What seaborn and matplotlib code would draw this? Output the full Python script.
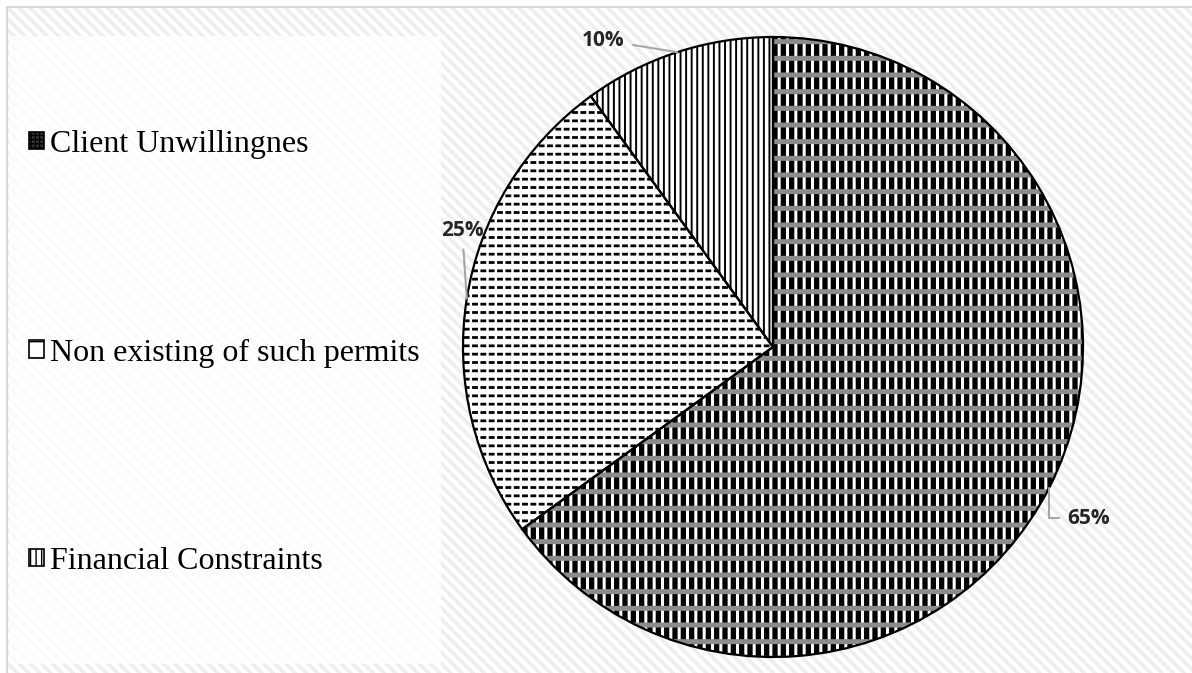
import numpy as np
import matplotlib
matplotlib.use('Agg')
import matplotlib.pyplot as plt
from matplotlib.patches import Rectangle, Patch
import seaborn as sns

# ---- data ----
categories = ['Client Unwillingnes', 'Non existing of such permits', 'Financial Constraints']
shares = [65, 25, 10]
pct_labels = ['65%', '25%', '10%']

sns.set_theme(style='white')
plt.rcParams['font.family'] = ['Liberation Serif', 'DejaVu Serif']

W, H = 1192, 673
fig = plt.figure(figsize=(W / 100, H / 100), dpi=100)
fig.patch.set_facecolor('white')


def hlw(artist, lw):
    try:
        artist.set_hatch_linewidth(lw)
    except AttributeError:
        pass


def px(x0, y0, x1, y1):
    return (x0 / W, 1 - y1 / H), (x1 - x0) / W, (y1 - y0) / H

# background hatched chart area
xy, w, h = px(7, 7, W + 5, H + 5)
bg = Rectangle(xy, w, h, transform=fig.transFigure, facecolor='white',
               edgecolor='#eeeeee', hatch='\\\\\\', lw=0, zorder=0)
hlw(bg, 2.5)
fig.add_artist(bg)
border = Rectangle(xy, w, h, transform=fig.transFigure, facecolor='none',
                   edgecolor='#d9d9d9', lw=1.5, zorder=0.5)
fig.add_artist(border)
# legend panel
xy, w, h = px(9, 36, 441, 664)
panel = Rectangle(xy, w, h, transform=fig.transFigure, facecolor='white',
                  edgecolor='none', alpha=0.8, zorder=0.6)
fig.add_artist(panel)

# ---- pie ----
cx, cy, r = 773, 347, 310
ax = fig.add_axes([(cx - r) / W, (H - cy - r) / H, 2 * r / W, 2 * r / H])
ax.set_facecolor('none')
ax.set_zorder(2)


def layer(idx, face, hatch=None, hcolor='black', hwidth=1.0):
    """Draw one hatch layer of the pie, keeping only slice `idx` visible."""
    wl, _ = ax.pie(shares, startangle=90, counterclock=False,
                   wedgeprops=dict(linewidth=0))
    for i, wdg in enumerate(wl):
        if i != idx:
            wdg.set_visible(False)
            continue
        wdg.set_facecolor(face)
        wdg.set_edgecolor(hcolor)
        wdg.set_linewidth(0)
        if hatch:
            wdg.set_hatch(hatch)
            hlw(wdg, hwidth)
    return wl

# Client Unwillingnes: black checks with white columns and grey bands
wedges = layer(0, 'black', '||', 'white', 2.2)
layer(0, 'none', '-', '#8c8c8c', 3.6)
# Non existing: dashed horizontal lines
layer(1, 'white', '--', 'black', 2.0)
layer(1, 'none', '||', 'white', 1.8)
# Financial Constraints: vertical lines
layer(2, 'white', '|||', 'black', 1.4)

# outlines
ax.pie(shares, startangle=90, counterclock=False,
       wedgeprops=dict(facecolor='none', edgecolor='black', linewidth=1.6))

ax.set_xlim(-1, 1)
ax.set_ylim(-1, 1)
ax.set_aspect('equal')
ax.axis('off')

# percentage labels with leader lines
label_pos = [(1.019, -0.552), (-1.003, 0.377), (-0.548, 0.990)]
conn = ['angle,angleA=0,angleB=90,rad=0', 'arc3', 'arc3']
for wdg, lab, pos, cs in zip(wedges, pct_labels, label_pos, conn):
    mid = np.deg2rad((wdg.theta1 + wdg.theta2) / 2)
    edge = (np.cos(mid), np.sin(mid))
    ax.annotate(lab, xy=edge, xytext=pos, textcoords='data',
                ha='center', va='center', fontsize=15, fontweight='bold',
                family=['Open Sans', 'DejaVu Sans'], color='#262626',
                annotation_clip=False,
                arrowprops=dict(arrowstyle='-', color='#a6a6a6', lw=1.5,
                                shrinkA=4, shrinkB=0, connectionstyle=cs))

# ---- legend ----
handles = [
    Patch(facecolor='#333333', edgecolor='black', hatch='++++', lw=1.2),
    Patch(facecolor='white', edgecolor='black', hatch='-', lw=1.2),
    Patch(facecolor='white', edgecolor='black', hatch='|||', lw=1.2),
]
leg = fig.legend(handles, categories, loc='upper left',
                 bbox_to_anchor=(13 / W, 1 - 114 / H), frameon=False,
                 fontsize=23, labelspacing=5.62, handlelength=0.47,
                 handleheight=0.47, handletextpad=0.2, borderpad=0)
for t in leg.get_texts():
    t.set_color('black')

fig.savefig('out.png', dpi=100)
